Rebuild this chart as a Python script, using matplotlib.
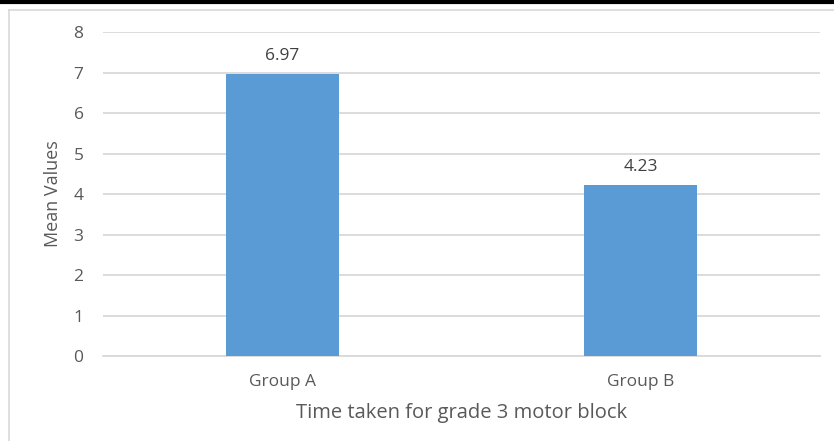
import numpy as np
import matplotlib.pyplot as plt
from matplotlib.lines import Line2D

plt.rcParams['font.family'] = ['Open Sans', 'DejaVu Sans']

groups = ['Group A', 'Group B']
means = [6.97, 4.23]
labels = ['6.97', '4.23']

grey = '#595959'
fig = plt.figure(figsize=(8.34, 4.41), dpi=100)
ax = fig.add_axes([0.1235, 0.1927, 0.983 - 0.1235, 0.9274 - 0.1927])

x = np.arange(len(groups))
bars = ax.bar(x, means, width=0.315, color='#5B9BD5', zorder=3)
for b, t in zip(bars, labels):
    ax.text(b.get_x() + b.get_width() / 2, b.get_height() + 0.24, t,
            ha='center', va='bottom', fontsize=12.5, color='#404040')

ax.set_xlim(-0.5, 1.5)
ax.set_ylim(0, 8)
ax.set_yticks(range(0, 9))
ax.set_xticks(x)
ax.set_xticklabels(groups)
ax.grid(axis='y', color='#D9D9D9', linewidth=1.3, zorder=0)
for s in ['top', 'right', 'left']:
    ax.spines[s].set_visible(False)
ax.spines['bottom'].set_color('#D9D9D9')
ax.spines['bottom'].set_linewidth(1.3)
ax.tick_params(axis='both', length=0, labelsize=12.5, colors=grey)
ax.tick_params(axis='y', pad=14)
ax.tick_params(axis='x', pad=13)

ax.set_xlabel('Time taken for grade 3 motor block', fontsize=14.5, color=grey, labelpad=9)
ax.set_ylabel('Mean Values', fontsize=13, color=grey, labelpad=8)

# outer frame like the pasted chart
fig.add_artist(Line2D([0, 1], [1 - 1.5 / 441] * 2, color='black', linewidth=3, transform=fig.transFigure))
fig.add_artist(Line2D([8.5 / 834, 1], [1 - 9.5 / 441] * 2, color='#D9D9D9', linewidth=1.2, transform=fig.transFigure))
fig.add_artist(Line2D([8.5 / 834] * 2, [0, 1 - 9.5 / 441], color='#D9D9D9', linewidth=1.2, transform=fig.transFigure))

fig.savefig('out.png', dpi=100)
